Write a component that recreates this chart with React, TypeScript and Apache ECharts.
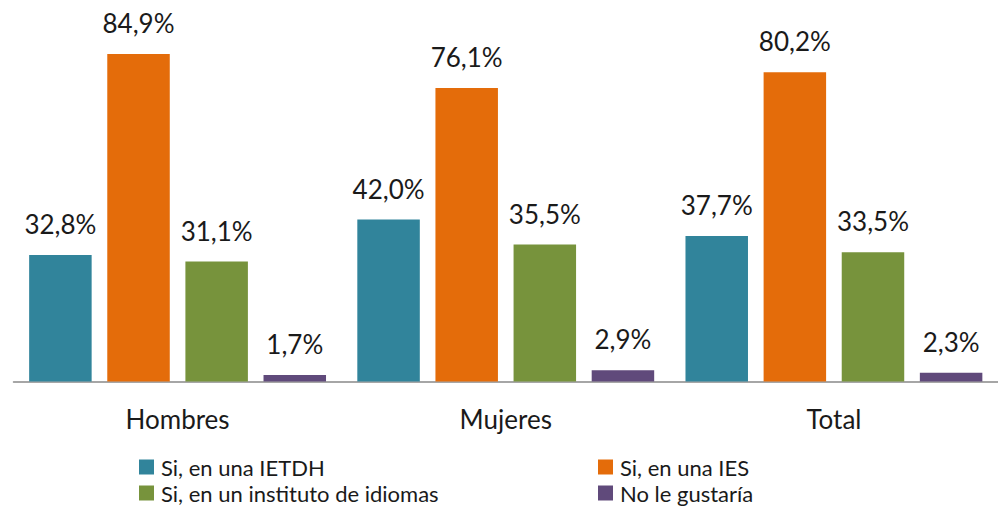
import React, { useEffect, useRef } from "react";
import * as echarts from "echarts";

const categories = ["Hombres", "Mujeres", "Total"];
const seriesNames = [
  "Si, en una IETDH",
  "Si, en una IES",
  "Si, en un instituto de idiomas",
  "No le gustaría",
];
const ietdh = [32.8, 42.0, 37.7];
const ies = [84.9, 76.1, 80.2];
const idiomas = [31.1, 35.5, 33.5];
const noGusta = [1.7, 2.9, 2.3];
const colors = ["#31849B", "#E46C0A", "#77933C", "#604A7B"];

const FONT = "Lato";

export default function App() {
  const ref = useRef<HTMLDivElement>(null);
  useEffect(() => {
    if (!ref.current) return;
    const chart = echarts.init(ref.current, undefined, { renderer: "svg" });
    const values = [ietdh, ies, idiomas, noGusta];
    const fmt = (p: any) => Number(p.value).toFixed(1).replace(".", ",") + "%";
    const legendBase = {
      orient: "vertical",
      top: 456,
      height: 57,
      padding: 0,
      itemWidth: 15,
      itemHeight: 15,
      itemGap: 4,
      icon: "rect",
      textStyle: { fontSize: 22, color: "#1a1a1a", fontFamily: FONT, padding: [0, 0, 0, 2] },
    };
    chart.setOption({
      animation: false,
      textStyle: { fontFamily: FONT },
      grid: { left: 13.5, top: 34.4, width: 995.5, height: 347.1, containLabel: false },
      xAxis: {
        type: "category",
        data: categories,
        axisLine: { lineStyle: { color: "#898989", width: 1.5 } },
        axisTick: { show: false },
        axisLabel: { color: "#1a1a1a", fontSize: 26, margin: 24, fontFamily: FONT },
      },
      yAxis: {
        type: "value",
        min: 0,
        max: 90,
        show: false,
        splitLine: { show: false },
      },
      legend: [
        { ...legendBase, left: 139, data: [seriesNames[0], seriesNames[2]] },
        { ...legendBase, left: 598, data: [seriesNames[1], seriesNames[3]] },
      ],
      series: seriesNames.map((name, i) => ({
        name,
        type: "bar",
        data: values[i],
        barWidth: 62.5,
        barGap: "25%",
        itemStyle: { color: colors[i] },
        label: {
          show: true,
          position: "top",
          distance: 18,
          formatter: fmt,
          fontSize: 26,
          color: "#1a1a1a",
          fontFamily: FONT,
        },
      })),
    });
    return () => chart.dispose();
  }, []);
  return <div ref={ref} style={{ width: 998, height: 513, position: "absolute", left: 0, top: 0 }} />;
}
